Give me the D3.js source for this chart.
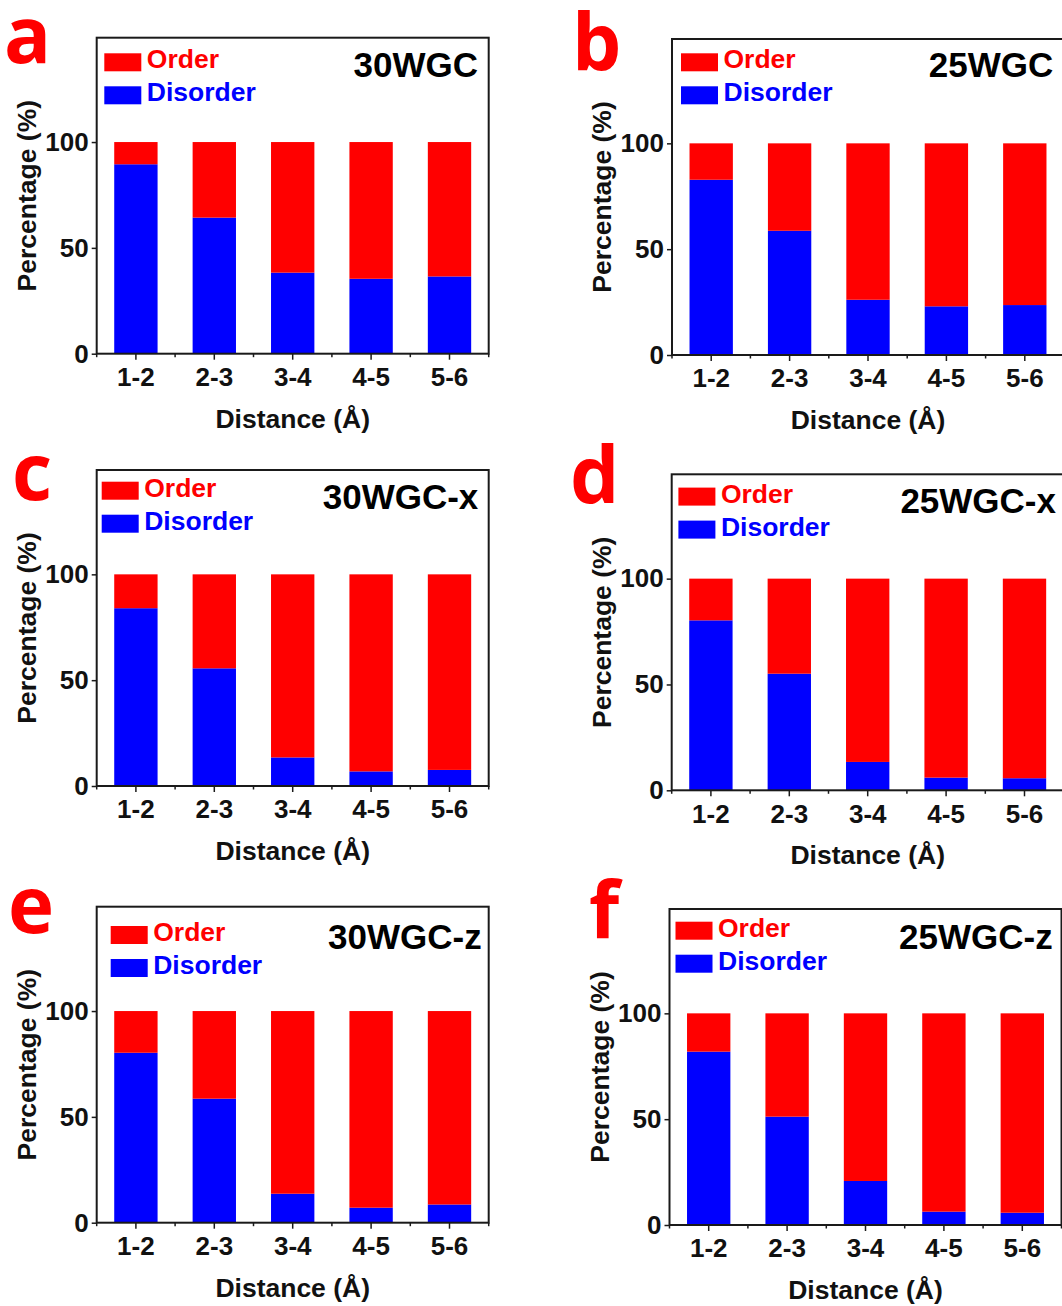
<!DOCTYPE html>
<html>
<head>
<meta charset="utf-8">
<script src="https://cdn.jsdelivr.net/npm/d3@7"></script>
<style>
  body { margin: 0; background: #fff; }
  svg { display: block; font-family: "Liberation Sans", Arial, sans-serif; font-weight: bold; }
</style>
</head>
<body>
<svg id="fig" width="1062" height="1306"></svg>
<script>
// distance bins (Å)
const categories = ["1-2", "2-3", "3-4", "4-5", "5-6"]
const yTicks = [0, 50, 100]

// disorder share (%) per bin, order = 100 - disorder
const disorder30WGC = [89.5, 64.3, 38.3, 35.4, 36.5]
const disorder25WGC = [82.8, 58.7, 26.1, 23.0, 23.6]
const disorder30WGCx = [84.0, 55.6, 13.5, 6.9, 7.6]
const disorder25WGCx = [80.3, 55.1, 13.4, 6.0, 5.7]
const disorder30WGCz = [80.3, 58.6, 13.7, 7.1, 8.6]
const disorder25WGCz = [81.9, 51.2, 20.8, 6.3, 5.8]

const panelNames = ["30WGC", "25WGC", "30WGC-x", "25WGC-x", "30WGC-z", "25WGC-z"]
const panelLetters = ["a", "b", "c", "d", "e", "f"]
const panelDisorder = [disorder30WGC, disorder25WGC, disorder30WGCx, disorder25WGCx, disorder30WGCz, disorder25WGCz]

// where each frame sits on the page, and little per-panel nudges
const layout = [
  { left: 96.7, top: 37.7, legX: 7.6, legY: 15.6, titleX: -10.7, titleY: 39, letterX: 4, letterY: 63 },
  { left: 672, top: 39, legX: 9, legY: 14.3, titleX: -10.7, titleY: 37.7, letterX: 572, letterY: 70 },
  { left: 96.7, top: 470, legX: 5, legY: 11.7, titleX: -10.4, titleY: 39.3, letterX: 12, letterY: 500 },
  { left: 671.7, top: 474.3, legX: 6.7, legY: 13.3, titleX: -7.7, titleY: 39, letterX: 570, letterY: 503 },
  { left: 96.7, top: 906.7, legX: 14, legY: 19.3, titleX: -7, titleY: 42.6, letterX: 8, letterY: 933 },
  { left: 669.5, top: 909, legX: 6, legY: 12.7, titleX: -8.8, titleY: 40, letterX: 589, letterY: 938 }
]

const W = 392, H = 316
const RED = "#ff0000", BLUE = "#0000ff"
const svg = d3.select("#fig")

const x = d3.scaleBand().domain(categories).range([0, W]).paddingInner(0.447).paddingOuter(0.2235)
const y = d3.scaleLinear().domain([0, 149.3]).range([H, 0])

const stack = d3.stack().keys(["disorder", "order"])

panelNames.forEach((name, i) => {
  let L = layout[i]
  let rows = categories.map((c, j) => ({ cat: c, disorder: panelDisorder[i][j], order: 100 - panelDisorder[i][j] }))
  let g = svg.append("g").attr("transform", `translate(${L.left},${L.top})`)

  // stacked bars
  let layers = g.selectAll("g.layer").data(stack(rows)).enter().append("g")
    .attr("fill", d => d.key == "disorder" ? BLUE : RED)
  layers.selectAll("rect").data(d => d).enter().append("rect")
    .attr("x", d => x(d.data.cat))
    .attr("width", x.bandwidth())
    .attr("y", d => y(d[1]))
    .attr("height", d => y(d[0]) - y(d[1]))

  // frame
  g.append("rect").attr("width", W).attr("height", H)
    .attr("fill", "none").attr("stroke", "#1a1a1a").attr("stroke-width", 2)

  // x axis
  let xa = g.append("g").attr("transform", `translate(0,${H})`)
    .call(d3.axisBottom(x).tickSize(6).tickPadding(8))
  xa.select(".domain").remove()
  xa.selectAll("line").attr("stroke", "#1a1a1a").attr("stroke-width", 1.5)
  xa.selectAll("text").attr("font-size", 26).attr("fill", "#111")
  // minor ticks between bins
  let half = x.step() / 2
  let minors = categories.map(c => x(c) + x.bandwidth() / 2 - half).concat([x(categories[4]) + x.bandwidth() / 2 + half])
  g.selectAll("line.minor").data(minors).enter().append("line")
    .attr("x1", d => d).attr("x2", d => d).attr("y1", H).attr("y2", H + 3.5)
    .attr("stroke", "#1a1a1a").attr("stroke-width", 1.5)

  // y axis
  let ya = g.append("g").call(d3.axisLeft(y).tickValues(yTicks).tickSize(5).tickPadding(3))
  ya.select(".domain").remove()
  ya.selectAll("line").attr("stroke", "#1a1a1a").attr("stroke-width", 1.5)
  ya.selectAll("text").attr("font-size", 26).attr("fill", "#111")

  // axis titles
  g.append("text").attr("x", W / 2).attr("y", H + 74).attr("text-anchor", "middle")
    .attr("font-size", 26.5).attr("fill", "#111").text("Distance (Å)")
  g.append("text").attr("transform", `translate(-61,${H / 2}) rotate(-90)`).attr("text-anchor", "middle")
    .attr("font-size", 26.5).attr("fill", "#111").text("Percentage (%)")

  // legend
  let leg = [["Order", RED], ["Disorder", BLUE]]
  leg.forEach(([label, col], k) => {
    let ly = L.legY + k * 33
    g.append("rect").attr("x", L.legX).attr("y", ly).attr("width", 37).attr("height", 18).attr("fill", col)
    g.append("text").attr("x", L.legX + 42.5).attr("y", ly + 15)
      .attr("font-size", 26.5).attr("fill", col).text(label)
  })

  // sample name
  g.append("text").attr("x", W + L.titleX).attr("y", L.titleY).attr("text-anchor", "end")
    .attr("font-size", 35).attr("fill", "#000").text(name)

  // panel letter
  svg.append("text").attr("x", L.letterX).attr("y", L.letterY)
    .attr("font-family", "'Open Sans', 'Liberation Sans', sans-serif").attr("font-weight", "bold")
    .attr("font-size", 78).attr("fill", RED).text(panelLetters[i])
})
</script>
</body>
</html>
